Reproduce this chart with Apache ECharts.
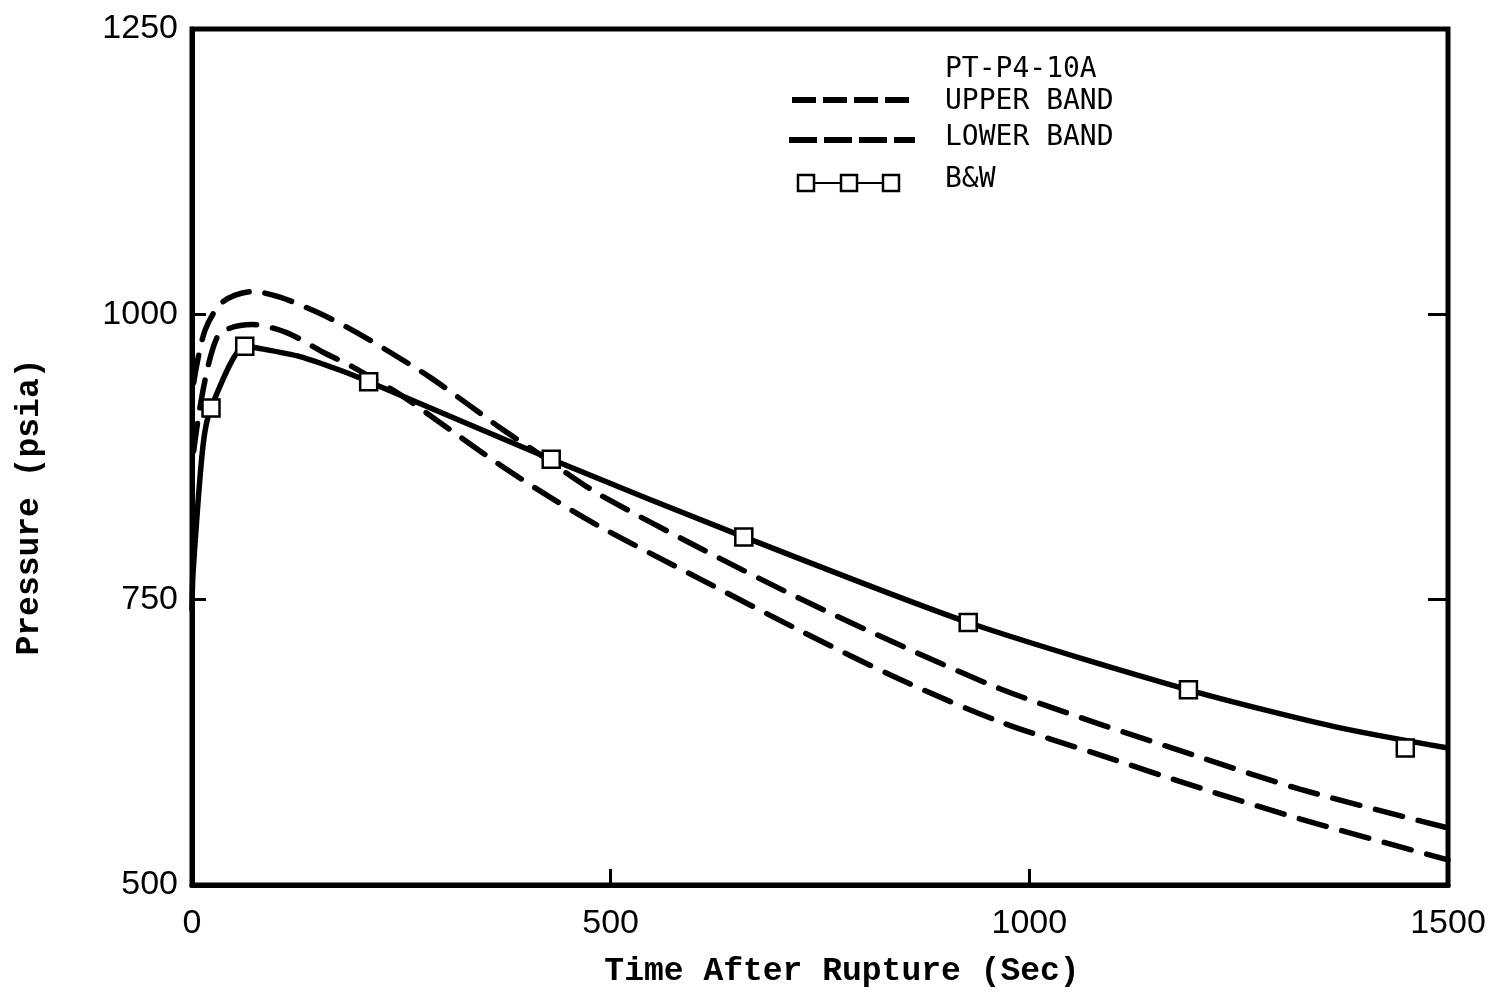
<!DOCTYPE html>
<html>
<head>
<meta charset="utf-8">
<title>Pressure after rupture</title>
<script src="https://cdn.jsdelivr.net/npm/echarts@6/dist/echarts.min.js"></script>
<style>
  html, body { margin: 0; padding: 0; background: #fff; }
  #chart { width: 1491px; height: 994px; }
</style>
</head>
<body>
<div id="chart"></div>
<script>
// B&W calculation, square markers
const bwTime = [22.7, 63, 211, 429, 659, 927, 1190, 1449]
const bwPressure = [918, 972, 941, 873, 805, 730, 671, 620]

// B&W solid curve
const bwCurveTime = [0, 1.2, 13, 22.7, 63, 78, 129, 177, 211, 429, 659, 927, 1190, 1363, 1500]
const bwCurvePressure = [740, 773, 884, 918, 972, 970.5, 963, 951, 941, 873, 805, 730, 671, 639, 620]

// PT-P4-10A upper band
const upperTime = [2, 15.5, 37, 72, 105, 149, 192, 236, 284, 328, 371, 412, 451, 487, 607, 726, 846, 965, 1084, 1204, 1323, 1500]
const upperPressure = [940, 986, 1011, 1020, 1015, 1002, 986, 967, 945, 922, 899, 879, 859, 842, 795, 751, 710, 672, 641, 612, 584, 550]

// PT-P4-10A lower band
const lowerTime = [2, 30, 72, 113, 156, 192, 213, 248, 308, 368, 427, 487, 607, 726, 846, 965, 1084, 1204, 1323, 1500]
const lowerPressure = [880, 980, 991, 984, 967, 954, 945, 930, 899, 868, 840, 814, 768, 723, 680, 643, 614, 585, 558, 522]

const xTickValues = [0, 500, 1000, 1500]
const yTickValues = [500, 750, 1000, 1250]

function pairs (xs, ys) {
  return xs.map((x, i) => [x, ys[i]])
}

const tickFont = 'Liberation Sans'
const nameFont = 'Liberation Mono'
const legendFont = 'DejaVu Sans Mono'

const chart = echarts.init(document.getElementById('chart'), null, { renderer: 'canvas' })

chart.setOption({
  backgroundColor: '#fff',
  animation: false,
  grid: {
    left: 192,
    right: 43,
    top: 29,
    bottom: 109,
    show: true,
    borderColor: '#000',
    borderWidth: 5
  },
  xAxis: {
    type: 'value',
    min: xTickValues[0],
    max: xTickValues[xTickValues.length - 1],
    interval: xTickValues[1] - xTickValues[0],
    name: 'Time After Rupture (Sec)',
    nameLocation: 'middle',
    nameGap: 70,
    nameTextStyle: {
      fontFamily: nameFont,
      fontWeight: 'bold',
      fontSize: 33,
      color: '#000',
      padding: [0, 0, 0, 44]
    },
    axisLine: { show: true, lineStyle: { color: '#000', width: 5 } },
    axisTick: { show: true, inside: true, length: 16, lineStyle: { color: '#000', width: 3 } },
    splitLine: { show: false },
    axisLabel: {
      fontFamily: tickFont,
      fontSize: 34,
      color: '#000',
      margin: 22,
      formatter: v => String(v)
    }
  },
  yAxis: [
    {
      type: 'value',
      min: yTickValues[0],
      max: yTickValues[yTickValues.length - 1],
      interval: yTickValues[1] - yTickValues[0],
      name: 'Pressure (psia)',
      nameLocation: 'middle',
      nameGap: 146,
      nameTextStyle: {
        fontFamily: nameFont,
        fontWeight: 'bold',
        fontSize: 33,
        color: '#000',
        padding: [0, 100, 0, 0]
      },
      axisLine: { show: true, lineStyle: { color: '#000', width: 5 } },
      axisTick: { show: true, inside: true, length: 14, lineStyle: { color: '#000', width: 3 } },
      splitLine: { show: false },
      axisLabel: {
        fontFamily: tickFont,
        fontSize: 34,
        color: '#000',
        margin: 14,
        formatter: v => String(v)
      }
    },
    {
      // right side, ticks only
      type: 'value',
      position: 'right',
      min: yTickValues[0],
      max: yTickValues[yTickValues.length - 1],
      interval: yTickValues[1] - yTickValues[0],
      axisLine: { show: false },
      axisTick: { show: true, inside: true, length: 20, lineStyle: { color: '#000', width: 3 } },
      axisLabel: { show: false },
      splitLine: { show: false }
    }
  ],
  series: [
    {
      name: 'UPPER BAND',
      type: 'line',
      data: pairs(upperTime, upperPressure),
      smooth: 0.3,
      showSymbol: false,
      lineStyle: { color: '#000', width: 5.5, type: [28, 16], cap: 'round' },
      z: 2
    },
    {
      name: 'LOWER BAND',
      type: 'line',
      data: pairs(lowerTime, lowerPressure),
      smooth: 0.3,
      showSymbol: false,
      lineStyle: { color: '#000', width: 5.5, type: [28, 16], cap: 'round' },
      z: 2
    },
    {
      name: 'B&W',
      type: 'line',
      data: pairs(bwCurveTime, bwCurvePressure),
      smooth: 0.25,
      showSymbol: false,
      lineStyle: { color: '#000', width: 5.5 },
      z: 3
    },
    {
      name: 'B&W points',
      type: 'scatter',
      data: pairs(bwTime, bwPressure),
      symbol: 'rect',
      symbolSize: 17,
      itemStyle: { color: '#fff', borderColor: '#000', borderWidth: 2.5, opacity: 1 },
      z: 4
    }
  ],
  // hand drawn style legend box like the original figure
  graphic: [
    { type: 'text', left: 945, top: 56, style: { text: 'PT-P4-10A', font: '28px "' + legendFont + '"', fill: '#000' } },
    { type: 'line', shape: { x1: 792, y1: 100, x2: 910, y2: 100 }, style: { stroke: '#000', lineWidth: 6, lineDash: [24, 7] } },
    { type: 'text', left: 945, top: 88, style: { text: 'UPPER BAND', font: '28px "' + legendFont + '"', fill: '#000' } },
    { type: 'line', shape: { x1: 789, y1: 140, x2: 915, y2: 140 }, style: { stroke: '#000', lineWidth: 6, lineDash: [28, 7] } },
    { type: 'text', left: 945, top: 124, style: { text: 'LOWER BAND', font: '28px "' + legendFont + '"', fill: '#000' } },
    { type: 'line', shape: { x1: 806, y1: 183, x2: 891, y2: 183 }, style: { stroke: '#000', lineWidth: 2 } },
    { type: 'rect', shape: { x: 798, y: 175, width: 16, height: 16 }, style: { fill: '#fff', stroke: '#000', lineWidth: 2.5 } },
    { type: 'rect', shape: { x: 841, y: 175, width: 16, height: 16 }, style: { fill: '#fff', stroke: '#000', lineWidth: 2.5 } },
    { type: 'rect', shape: { x: 883, y: 175, width: 16, height: 16 }, style: { fill: '#fff', stroke: '#000', lineWidth: 2.5 } },
    { type: 'text', left: 945, top: 166, style: { text: 'B&W', font: '28px "' + legendFont + '"', fill: '#000' } }
  ]
})
</script>
</body>
</html>
